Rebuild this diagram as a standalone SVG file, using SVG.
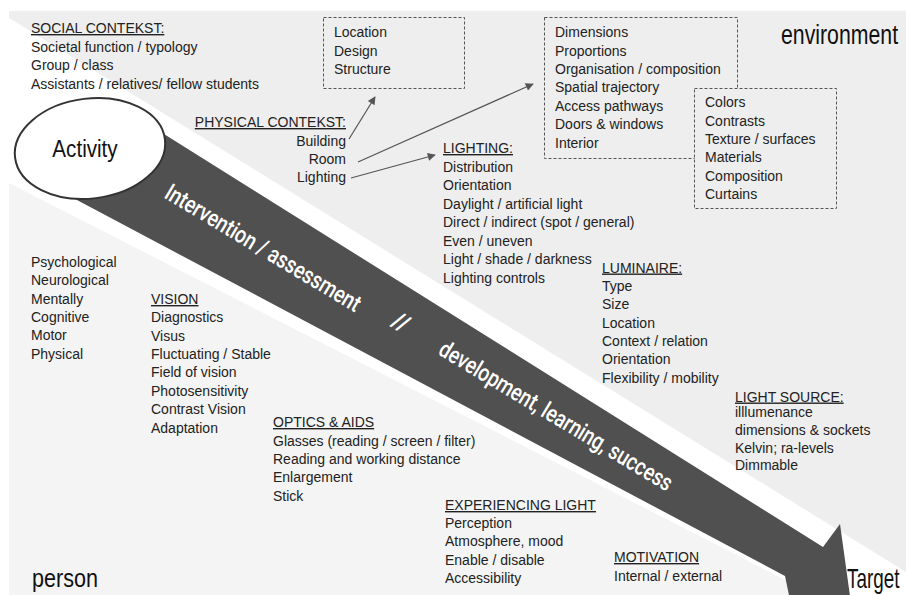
<svg xmlns="http://www.w3.org/2000/svg" width="906" height="595" viewBox="0 0 906 595">
<defs>
<style>
.t{font-family:"Liberation Sans",Arial,sans-serif;font-size:14px;fill:#222}
.h{text-decoration:underline}
.big{font-family:"Liberation Sans",Arial,sans-serif;fill:#111}
.band{font-family:Roboto,"Liberation Sans",sans-serif;font-size:24px;font-weight:500;fill:#fff}
.box{fill:#eeeeee;stroke:#555;stroke-width:1;stroke-dasharray:3,2}
.con{stroke:#555;stroke-width:1.2;fill:none;marker-end:url(#ah)}
</style>
<marker id="ah" viewBox="0 0 10 10" refX="9" refY="5" markerWidth="11" markerHeight="8" markerUnits="userSpaceOnUse" orient="auto">
<path d="M0,0 L10,5 L0,10 z" fill="#555"/>
</marker>
</defs>
<rect width="906" height="595" fill="#fff"/>
<g id="background">
<rect x="9" y="11" width="897" height="584" fill="#f4f4f4"/>
<polygon points="9,11 906,11 906,572 9,18" fill="#eeeeee"/>
<polygon points="9,18 906,572 906,595 815,595 9,183" fill="#ffffff"/>
</g>
<g id="band">
<polygon points="140,119 823,547 840,524 850,596 790,600 785,576 60,191" fill="#505050"/>
<text class="band" transform="translate(263,248) rotate(31)" x="0" y="8" text-anchor="middle" textLength="224" lengthAdjust="spacingAndGlyphs">Intervention / assessment</text>
<text class="band" transform="translate(401,322) rotate(31)" x="0" y="8" text-anchor="middle">//</text>
<text class="band" transform="translate(556,416) rotate(31)" x="0" y="8" text-anchor="middle" textLength="268" lengthAdjust="spacingAndGlyphs">development, learning, success</text>
</g>
<g id="activity">
<ellipse cx="90" cy="148.5" rx="75.5" ry="50" transform="rotate(-7 90 148.5)" fill="#fff" stroke="#333" stroke-width="2"/>
<text class="big" transform="translate(85,157) scale(0.86,1)" font-size="24" text-anchor="middle">Activity</text>
</g>
<g id="environment-label"><text class="big" transform="translate(781,44) scale(0.76,1)" font-size="28">environment</text></g>
<g id="person-label"><text class="big" transform="translate(32,587) scale(0.83,1)" font-size="26">person</text></g>
<g id="target-label"><text class="big" transform="translate(847,588) scale(0.7,1)" font-size="27">Target</text></g>
<g id="social">
<text class="t h" x="31" y="33">SOCIAL CONTEKST:</text>
<text class="t" x="31" y="52">Societal function / typology</text>
<text class="t" x="31" y="70">Group / class</text>
<text class="t" x="31" y="88.5">Assistants / relatives/ fellow students</text>
</g>
<g id="box-building">
<rect class="box" x="323.5" y="17.5" width="141" height="71"/>
<text class="t" x="334" y="37">Location</text>
<text class="t" x="334" y="55.5">Design</text>
<text class="t" x="334" y="74">Structure</text>
</g>
<g id="box-room">
<rect class="box" x="544.5" y="17.5" width="193" height="141"/>
<text class="t" x="555" y="37">Dimensions</text>
<text class="t" x="555" y="55.5">Proportions</text>
<text class="t" x="555" y="74">Organisation / composition</text>
<text class="t" x="555" y="92">Spatial trajectory</text>
<text class="t" x="555" y="110.5">Access pathways</text>
<text class="t" x="555" y="129">Doors &amp; windows</text>
<text class="t" x="555" y="147.5">Interior</text>
</g>
<g id="box-surfaces">
<rect class="box" x="694.5" y="88.5" width="142" height="120"/>
<text class="t" x="705" y="107">Colors</text>
<text class="t" x="705" y="125.5">Contrasts</text>
<text class="t" x="705" y="144">Texture / surfaces</text>
<text class="t" x="705" y="162">Materials</text>
<text class="t" x="705" y="180.5">Composition</text>
<text class="t" x="705" y="199">Curtains</text>
</g>
<g id="physical">
<text class="t h" x="346" y="127" text-anchor="end">PHYSICAL CONTEKST:</text>
<text class="t" x="346" y="145.5" text-anchor="end">Building</text>
<text class="t" x="346" y="164" text-anchor="end">Room</text>
<text class="t" x="346" y="182" text-anchor="end">Lighting</text>
</g>
<g id="connectors">
<line class="con" x1="349" y1="139" x2="375" y2="97"/>
<line class="con" x1="358" y1="162" x2="533" y2="84"/>
<line class="con" x1="351" y1="178" x2="435" y2="155"/>
</g>
<g id="lighting">
<text class="t h" x="443" y="153">LIGHTING:</text>
<text class="t" x="443" y="171.5">Distribution</text>
<text class="t" x="443" y="190">Orientation</text>
<text class="t" x="443" y="208.5">Daylight / artificial light</text>
<text class="t" x="443" y="227">Direct / indirect (spot / general)</text>
<text class="t" x="443" y="245.5">Even / uneven</text>
<text class="t" x="443" y="264">Light / shade / darkness</text>
<text class="t" x="443" y="282.5">Lighting controls</text>
</g>
<g id="luminaire">
<text class="t h" x="602" y="272.5">LUMINAIRE:</text>
<text class="t" x="602" y="291">Type</text>
<text class="t" x="602" y="309">Size</text>
<text class="t" x="602" y="327.5">Location</text>
<text class="t" x="602" y="346">Context / relation</text>
<text class="t" x="602" y="364">Orientation</text>
<text class="t" x="602" y="382.5">Flexibility / mobility</text>
</g>
<g id="lightsource">
<text class="t h" x="735" y="401.5">LIGHT SOURCE:</text>
<text class="t" x="735" y="417">illlumenance</text>
<text class="t" x="735" y="435">dimensions &amp; sockets</text>
<text class="t" x="735" y="452.5">Kelvin; ra-levels</text>
<text class="t" x="735" y="470">Dimmable</text>
</g>
<g id="person-factors">
<text class="t" x="31" y="267">Psychological</text>
<text class="t" x="31" y="285">Neurological</text>
<text class="t" x="31" y="303.5">Mentally</text>
<text class="t" x="31" y="322">Cognitive</text>
<text class="t" x="31" y="340">Motor</text>
<text class="t" x="31" y="358.5">Physical</text>
</g>
<g id="vision">
<text class="t h" x="151" y="304">VISION</text>
<text class="t" x="151" y="322">Diagnostics</text>
<text class="t" x="151" y="340.5">Visus</text>
<text class="t" x="151" y="358.5">Fluctuating / Stable</text>
<text class="t" x="151" y="377">Field of vision</text>
<text class="t" x="151" y="395.5">Photosensitivity</text>
<text class="t" x="151" y="414">Contrast Vision</text>
<text class="t" x="151" y="432.5">Adaptation</text>
</g>
<g id="optics">
<text class="t h" x="273" y="427">OPTICS &amp; AIDS</text>
<text class="t" x="273" y="445.5">Glasses (reading / screen / filter)</text>
<text class="t" x="273" y="464">Reading and working distance</text>
<text class="t" x="273" y="482">Enlargement</text>
<text class="t" x="273" y="500.5">Stick</text>
</g>
<g id="experiencing">
<text class="t h" x="445" y="510">EXPERIENCING LIGHT</text>
<text class="t" x="445" y="528">Perception</text>
<text class="t" x="445" y="546">Atmosphere, mood</text>
<text class="t" x="445" y="564.5">Enable / disable</text>
<text class="t" x="445" y="582.5">Accessibility</text>
</g>
<g id="motivation">
<text class="t h" x="614" y="562">MOTIVATION</text>
<text class="t" x="614" y="580.5">Internal / external</text>
</g>
</svg>
